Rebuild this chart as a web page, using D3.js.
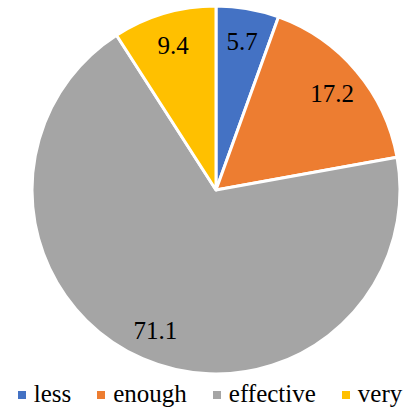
<!DOCTYPE html>
<html>
<head>
<meta charset="utf-8">
<script src="https://cdn.jsdelivr.net/npm/d3@7"></script>
<style>
  body { margin: 0; background: #fff; }
  #chart { position: relative; width: 412px; height: 407px; }
  #chart svg { position: absolute; left: 0; top: 0; }
  .lbl, .leg { position: absolute; font-family: 'Liberation Serif', 'Times New Roman', serif; font-size: 25px; line-height: 1; white-space: nowrap; color: #000; }
  .lbl { transform: translate(-50%, -50%); }
  .sw { display: inline-block; width: 8px; height: 8px; margin-right: 8px; vertical-align: 3px; }
</style>
</head>
<body>
<div id="chart"></div>
<script>
// data
var categories = ['less', 'enough', 'effective', 'very'];
var values = [5.7, 17.2, 71.1, 9.4];
var colors = ['#4472C4', '#ED7D31', '#A5A5A5', '#FFC000'];

var w = 412, h = 407;
var cx = 216, cy = 190, radius = 184;
var labelR = 152;

var chart = d3.select('#chart');

var svg = chart.append('svg')
    .attr('width', w)
    .attr('height', h);

var pie = d3.pie().sort(null).value(d => d);
var arcs = pie(values);

var arc = d3.arc().innerRadius(0).outerRadius(radius);

svg.append('g')
    .attr('transform', 'translate(' + cx + ',' + cy + ')')
    .selectAll('path')
    .data(arcs)
    .enter()
    .append('path')
    .attr('d', arc)
    .attr('fill', (d, i) => colors[i])
    .attr('stroke', '#fff')
    .attr('stroke-width', 3)
    .attr('stroke-linejoin', 'round');

// value labels (html text over the svg)
var labelArc = d3.arc().innerRadius(labelR).outerRadius(labelR);
chart.selectAll('div.lbl')
    .data(arcs)
    .enter()
    .append('div')
    .attr('class', 'lbl')
    .style('left', d => (cx + labelArc.centroid(d)[0]) + 'px')
    .style('top', d => (cy + labelArc.centroid(d)[1] + 1) + 'px')
    .text(d => d.data);

// legend
var leg = chart.append('div')
    .attr('class', 'leg')
    .style('left', '0px')
    .style('width', '420px')
    .style('top', '381px')
    .style('text-align', 'center');

categories.forEach(function (c, i) {
    var item = leg.append('span')
        .style('margin', i ? '0 0 0 26px' : '0');
    item.append('span').attr('class', 'sw').style('background', colors[i]);
    item.append('span').text(c);
});
</script>
</body>
</html>
